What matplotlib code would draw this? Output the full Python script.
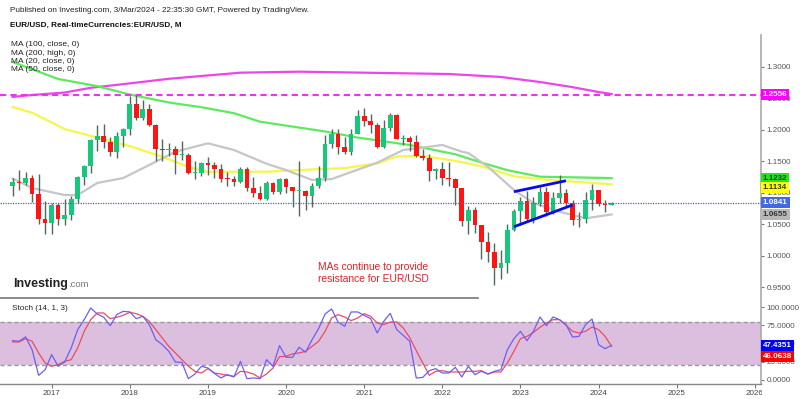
import numpy as np
import pandas as pd
import matplotlib
matplotlib.use("Agg")
import matplotlib.pyplot as plt
from matplotlib.lines import Line2D
from matplotlib.patches import Rectangle

plt.rcParams['font.family'] = ['Liberation Sans', 'DejaVu Sans']

# ---------------- data ----------------
months = pd.period_range("2016-07", "2024-03", freq="M")

opens = [1.1105, 1.1174, 1.1157, 1.1240, 1.0981, 1.0589,
         1.0517, 1.0798, 1.0575, 1.0652, 1.0896, 1.1244, 1.1426, 1.1842, 1.1906, 1.1812, 1.1645, 1.1904,
         1.2005, 1.2414, 1.2193, 1.2324, 1.2076, 1.1693, 1.1684, 1.1690, 1.1601, 1.1604, 1.1311, 1.1317,
         1.1467, 1.1447, 1.1372, 1.1216, 1.1214, 1.1166, 1.1371, 1.1076, 1.0990, 1.0900, 1.1152, 1.1017,
         1.1213, 1.1093, 1.1027, 1.1030, 1.0954, 1.1099, 1.1234, 1.1778, 1.1936, 1.1720, 1.1646, 1.1926,
         1.2216, 1.2136, 1.2075, 1.1728, 1.2020, 1.2227, 1.1858, 1.1870, 1.1809, 1.1579, 1.1558, 1.1337,
         1.1370, 1.1235, 1.1219, 1.1067, 1.0545, 1.0733, 1.0484, 1.0220, 1.0053, 0.9802, 0.9884, 1.0406,
         1.0705, 1.0863, 1.0577, 1.0839, 1.1019, 1.0689, 1.0910, 1.0998, 1.0843, 1.0573, 1.0576, 1.0887,
         1.1039, 1.0818, 1.0805]
highs = [1.1234, 1.1366, 1.1327, 1.1278, 1.1300, 1.0874,
         1.0829, 1.0829, 1.0906, 1.0952, 1.1268, 1.1446, 1.1846, 1.2070, 1.2092, 1.1880, 1.1961, 1.2023,
         1.2537, 1.2556, 1.2476, 1.2414, 1.2097, 1.1852, 1.1791, 1.1734, 1.1815, 1.1625, 1.1500, 1.1486,
         1.1570, 1.1489, 1.1448, 1.1324, 1.1264, 1.1412, 1.1412, 1.1249, 1.1109, 1.1179, 1.1175, 1.1239,
         1.1239, 1.1096, 1.1496, 1.1040, 1.1147, 1.1422, 1.1909, 1.2011, 1.2011, 1.1881, 1.2004, 1.2310,
         1.2349, 1.2243, 1.2113, 1.2150, 1.2266, 1.2254, 1.1909, 1.1900, 1.1909, 1.1692, 1.1616, 1.1386,
         1.1483, 1.1495, 1.1233, 1.1076, 1.0787, 1.0774, 1.0486, 1.0369, 1.0198, 1.0094, 1.0497, 1.0736,
         1.0929, 1.1033, 1.0930, 1.1095, 1.1092, 1.1012, 1.1276, 1.1065, 1.0882, 1.0695, 1.1017, 1.1140,
         1.1046, 1.0888, 1.0845]
lows = [1.0952, 1.1046, 1.1123, 1.0852, 1.0506, 1.0352,
        1.0340, 1.0494, 1.0493, 1.0570, 1.0839, 1.1119, 1.1312, 1.1662, 1.1717, 1.1575, 1.1554, 1.1718,
        1.1916, 1.2152, 1.2155, 1.2055, 1.1510, 1.1508, 1.1575, 1.1301, 1.1527, 1.1302, 1.1216, 1.1269,
        1.1289, 1.1234, 1.1176, 1.1110, 1.1107, 1.1160, 1.1028, 1.0926, 1.0879, 1.0879, 1.0981, 1.0981,
        1.0992, 1.0778, 1.0636, 1.0727, 1.0767, 1.1071, 1.1186, 1.1711, 1.1612, 1.1622, 1.1603, 1.1924,
        1.2054, 1.1952, 1.1704, 1.1704, 1.1986, 1.1845, 1.1752, 1.1664, 1.1563, 1.1524, 1.1186, 1.1222,
        1.1121, 1.1106, 1.0806, 1.0471, 1.0349, 1.0359, 0.9952, 0.9901, 0.9536, 0.9632, 0.9730, 1.0393,
        1.0483, 1.0533, 1.0516, 1.0788, 1.0635, 1.0662, 1.0834, 1.0766, 1.0488, 1.0448, 1.0516, 1.0724,
        1.0796, 1.0695, 1.0800]
closes = [1.1174, 1.1157, 1.1240, 1.0981, 1.0589, 1.0517,
          1.0798, 1.0575, 1.0652, 1.0896, 1.1244, 1.1426, 1.1842, 1.1906, 1.1812, 1.1645, 1.1904, 1.2005,
          1.2414, 1.2193, 1.2324, 1.2076, 1.1693, 1.1684, 1.1690, 1.1601, 1.1604, 1.1311, 1.1317, 1.1467,
          1.1447, 1.1372, 1.1216, 1.1214, 1.1166, 1.1371, 1.1076, 1.0990, 1.0900, 1.1152, 1.1017, 1.1213,
          1.1093, 1.1027, 1.1030, 1.0954, 1.1099, 1.1234, 1.1778, 1.1936, 1.1720, 1.1646, 1.1926, 1.2216,
          1.2136, 1.2075, 1.1728, 1.2020, 1.2227, 1.1858, 1.1870, 1.1809, 1.1579, 1.1558, 1.1337, 1.1370,
          1.1235, 1.1219, 1.1067, 1.0545, 1.0733, 1.0484, 1.0220, 1.0053, 0.9802, 0.9884, 1.0406, 1.0705,
          1.0863, 1.0577, 1.0839, 1.1019, 1.0689, 1.0910, 1.0998, 1.0843, 1.0573, 1.0576, 1.0887, 1.1039,
          1.0818, 1.0805, 1.0841]

# moving averages (month, value)
ma20_months = ["2016-07", "2016-10", "2017-03", "2017-05", "2017-08", "2017-12", "2018-04", "2018-08",
               "2019-01", "2019-05", "2019-10", "2020-01", "2020-05", "2020-08", "2021-03", "2021-07",
               "2022-01", "2022-04", "2022-05", "2022-08", "2022-12", "2023-03", "2023-07", "2023-11", "2024-03"]
ma20_values = [1.1225, 1.1075, 1.0963, 1.0963, 1.1154, 1.1233, 1.1440, 1.1651,
               1.1784, 1.1678, 1.1460, 1.1360, 1.1202, 1.1217, 1.1476, 1.1678,
               1.1757, 1.1651, 1.1630, 1.1413, 1.1043, 1.0837, 1.0698, 1.0594, 1.0655]
ma50_months = ["2016-07", "2016-10", "2017-03", "2017-08", "2018-01", "2018-06", "2018-10", "2019-01",
               "2019-05", "2019-10", "2020-05", "2020-10", "2021-03", "2021-06", "2021-10", "2022-03",
               "2022-07", "2022-12", "2023-05", "2024-03"]
ma50_values = [1.2360, 1.2270, 1.2010, 1.1875, 1.1740, 1.1570, 1.1410, 1.1330,
               1.1333, 1.1333, 1.1370, 1.1390, 1.1467, 1.1575, 1.1585, 1.1505,
               1.1420, 1.1260, 1.1205, 1.1134]
ma100_months = ["2016-07", "2017-02", "2017-08", "2018-01", "2018-07", "2018-12", "2019-05", "2019-09",
                "2020-07", "2020-12", "2021-08", "2022-03", "2022-07", "2022-11", "2023-04", "2024-03"]
ma100_values = [1.3075, 1.2805, 1.2692, 1.2558, 1.2432, 1.2357, 1.2262, 1.2127,
                1.1972, 1.1875, 1.1757, 1.1610, 1.1478, 1.1358, 1.1254, 1.1232]
ma200_months = ["2016-07", "2016-10", "2017-03", "2017-07", "2018-01", "2018-07", "2019-06", "2020-03",
                "2021-01", "2021-07", "2022-02", "2022-10", "2023-04", "2023-09", "2024-01", "2024-03"]
ma200_values = [1.2520, 1.2551, 1.2590, 1.2665, 1.2735, 1.2808, 1.2905, 1.2921,
                1.2905, 1.2895, 1.2884, 1.2837, 1.2757, 1.2675, 1.2598, 1.2567]

resistance_level = 1.2556
last_price = 1.0841

wedge_upper_months = ["2022-12", "2023-08"]
wedge_upper_values = [1.1016, 1.1190]
wedge_lower_months = ["2022-12", "2023-09"]
wedge_lower_values = [1.0460, 1.0805]

stoch_k = [53.9, 53.0, 59.0, 41.5, 6.3, 14.0,
           34.7, 18.7, 24.6, 43.8, 69.0, 82.7, 98.8, 90.5, 86.0, 74.5, 89.6, 94.2,
           93.3, 84.1, 87.3, 75.9, 55.2, 48.4, 39.2, 24.6, 24.1, 1.7, 8.1, 18.7,
           16.4, 9.0, 2.7, 7.3, 4.1, 25.5, 1.7, 2.7, 1.7, 27.8, 18.7, 47.1,
           31.1, 31.1, 44.8, 38.0, 55.2, 70.4, 90.5, 97.4, 79.5, 73.6, 93.3, 93.3,
           88.7, 84.1, 64.4, 80.4, 91.4, 69.0, 61.2, 53.0, 2.6, 3.5, 12.7, 15.5,
           9.5, 9.5, 17.3, 4.0, 18.7, 7.2, 11.8, 8.1, 11.8, 14.1, 41.5, 56.6,
           66.7, 53.9, 66.7, 86.4, 74.5, 86.4, 82.7, 75.9, 58.9, 59.8, 75.9, 83.6,
           48.4, 42.9, 47.4351]
stoch_d = [52.1, 52.1, 56.7, 53.0, 37.0, 23.3,
           18.7, 21.0, 25.5, 27.8, 43.8, 66.7, 82.7, 91.9, 91.9, 84.1, 86.0, 88.7,
           92.8, 91.0, 87.3, 80.4, 69.0, 57.5, 46.1, 37.0, 27.8, 18.7, 11.8, 9.5,
           15.5, 9.5, 8.1, 6.3, 4.9, 11.8, 10.9, 8.1, 2.6, 8.1, 16.4, 32.0,
           32.5, 35.7, 37.0, 39.3, 46.1, 53.0, 66.7, 85.0, 89.6, 86.4, 81.4, 85.0,
           91.0, 87.3, 78.1, 75.9, 79.5, 79.5, 71.3, 58.0, 40.2, 23.3, 6.3, 11.8,
           12.7, 10.9, 10.9, 10.9, 11.8, 11.8, 12.7, 8.1, 10.9, 10.9, 23.3, 39.3,
           56.6, 59.8, 65.3, 72.2, 78.1, 82.7, 82.7, 75.0, 66.7, 64.4, 66.7, 72.7,
           69.0, 59.8, 46.0638]

years = list(range(2017, 2027))
price_ticks = [0.95, 1.00, 1.05, 1.10, 1.15, 1.20, 1.25, 1.30]
stoch_ticks = [0, 25, 50, 75, 100]


def month_pos(labels):
    p = pd.PeriodIndex(list(labels), freq="M")
    return np.asarray((p.year - 2017) * 12 + (p.month - 1), dtype=float)


# ---------------- figure ----------------
W, H = 800, 399
fig = plt.figure(figsize=(8, 3.99), dpi=100)
fig.patch.set_facecolor("white")


def fx(px):
    return px / W


def fy(py):
    return 1 - py / H


AX_R = 760.7
ax = fig.add_axes([0, fy(298), fx(AX_R), (298 - 35) / H])
ax2 = fig.add_axes([0, fy(384), fx(AX_R), (384 - 298.7) / H], sharex=ax)

xm = month_pos(months.strftime("%Y-%m"))
o = np.array(opens); h = np.array(highs); l = np.array(lows); c = np.array(closes)
up = c >= o
GREEN = "#17c77b"
RED = "#ff1414"
WICK = "#51695c"

# MAs (beneath candles)
ax.plot(month_pos(ma200_months), ma200_values, color="#ec45ec", lw=1.6, zorder=2)
ax.plot(month_pos(ma100_months), ma100_values, color="#5fe95f", lw=1.6, zorder=2)
ax.plot(month_pos(ma50_months), ma50_values, color="#f6f64a", lw=1.6, zorder=2)
ax.plot(month_pos(ma20_months), ma20_values, color="#c6c6c6", lw=1.6, zorder=2)

# candles
ax.vlines(xm, l, h, color=WICK, lw=1.0, zorder=3)
body_lo = np.minimum(o, c)
body_h = np.maximum(np.abs(c - o), 0.0012)
ax.bar(xm, body_h, bottom=body_lo, width=0.72,
       color=np.where(up, GREEN, RED), edgecolor="none", zorder=4)

# horizontal lines
ax.axhline(resistance_level, color="#ee33ee", lw=1.5, ls=(0, (3, 2)), zorder=5)
ax.axhline(last_price, color="#3d66e0", lw=0.9, ls=(0, (1, 1)), zorder=5)

# wedge
ax.plot(month_pos(wedge_upper_months), wedge_upper_values, color="#0a0ae6", lw=2, zorder=6,
        solid_capstyle="butt")
ax.plot(month_pos(wedge_lower_months), wedge_lower_values, color="#0a0ae6", lw=2, zorder=6,
        solid_capstyle="butt")

ax.set_xlim(-7.93, 108.9)
ax.set_ylim(0.9329, 1.3503)

for a in (ax, ax2):
    for s in ("top", "left", "bottom"):
        a.spines[s].set_visible(False)
    a.spines["right"].set_color("#aaaaaa")
    a.spines["right"].set_linewidth(1.2)
    a.yaxis.tick_right()
    a.tick_params(axis="y", length=2, width=0.8, color="#777777", labelsize=5.8,
                  labelcolor="#555555", pad=2)
    a.set_facecolor("none")

ax.set_yticks(price_ticks)
ax.set_yticklabels([f"{v:.4f}" for v in price_ticks])
ax.tick_params(axis="x", bottom=False, labelbottom=False)


def axis_label(a, val, fc, tc, dy=0.0):
    a.annotate(f"{val:.4f}", xy=(1, val), xycoords=a.get_yaxis_transform(),
               xytext=(1.5, dy), textcoords="offset points", ha="left", va="center",
               fontsize=5.8, color=tc, fontweight="bold", annotation_clip=False,
               bbox=dict(boxstyle="square,pad=0.25", fc=fc, ec="none"), zorder=10)


axis_label(ax, resistance_level, "#ff00ff", "white")
axis_label(ax, ma100_values[-1], "#1de81d", "#333333")
axis_label(ax, ma50_values[-1], "#ffff00", "#333333", dy=-2.4)
axis_label(ax, last_price, "#4169e1", "white")
axis_label(ax, ma20_values[-1], "#b8b8b8", "#333333")

# ---------------- stochastic panel ----------------
ax2.axhspan(20, 80, color="#dcbfdf", zorder=0, lw=0)
ax2.axhline(80, color="#999999", lw=1, ls=(0, (3, 2)), zorder=1)
ax2.axhline(20, color="#999999", lw=1, ls=(0, (3, 2)), zorder=1)
ax2.plot(xm, stoch_d, color="#f04a62", lw=0.9, zorder=3)
ax2.plot(xm, stoch_k, color="#6e5ff0", lw=0.9, zorder=3)
ax2.set_ylim(-5.6, 111.5)
ax2.set_yticks(stoch_ticks)
ax2.set_yticklabels([f"{v:.4f}" for v in stoch_ticks])
ax2.spines["bottom"].set_visible(True)
ax2.spines["bottom"].set_color("#888888")
ax2.spines["bottom"].set_linewidth(1.0)
ax2.set_xticks([(y - 2017) * 12 for y in years])
ax2.set_xticklabels([str(y) for y in years])
ax2.tick_params(axis="x", length=3, width=0.8, color="#777777", labelsize=5.8,
                labelcolor="#444444", pad=1.5)
axis_label(ax2, stoch_k[-1], "#0000ff", "white")
axis_label(ax2, stoch_d[-1], "#ff0000", "white", dy=-7.2)

# ---------------- texts ----------------
fig.text(fx(10), fy(11), "Published on Investing.com, 3/Mar/2024 - 22:35:30 GMT, Powered by TradingView.",
         fontsize=5.9, color="#222222", va="center", ha="left")
fig.text(fx(10), fy(25), "EUR/USD, Real-timeCurrencies:EUR/USD, M",
         fontsize=5.9, color="#111111", va="center", ha="left", fontweight="bold")
for i, s in enumerate(["MA (100, close, 0)", "MA (200, high, 0)", "MA (20, close, 0)", "MA (50, close, 0)"]):
    fig.text(fx(11), fy(45 + 8.3 * i), s, fontsize=6.0, color="#222222", va="center", ha="left", zorder=20)
fig.text(fx(11.5), fy(308.7), "Stoch (14, 1, 3)", fontsize=5.9, color="#222222", va="center", ha="left",
         zorder=20)

fig.text(fx(373), fy(273), "MAs continue to provide\nresistance for EUR/USD", fontsize=7.4,
         color="#e3202a", ha="center", va="center", linespacing=1.25, zorder=20)

t1 = fig.text(fx(13), fy(284), "Investing", fontsize=9.0, color="#222222", fontweight="bold",
              ha="left", va="center", zorder=20)
fig.add_artist(plt.Annotation(".com", xy=(1.0, 0.22), xycoords=t1, fontsize=6.8, color="#777777",
                              ha="left", va="baseline", annotation_clip=False))

# separator line
fig.add_artist(Line2D([0, fx(478)], [fy(298.3), fy(298.3)], color="#777777", lw=1.2))
# hide overflow of last year label
fig.add_artist(Rectangle((fx(761.5), 0), 1 - fx(761.5), 14 / H, transform=fig.transFigure,
                         facecolor="white", edgecolor="none", zorder=30))

fig.savefig("out.png", dpi=100, facecolor="white")
